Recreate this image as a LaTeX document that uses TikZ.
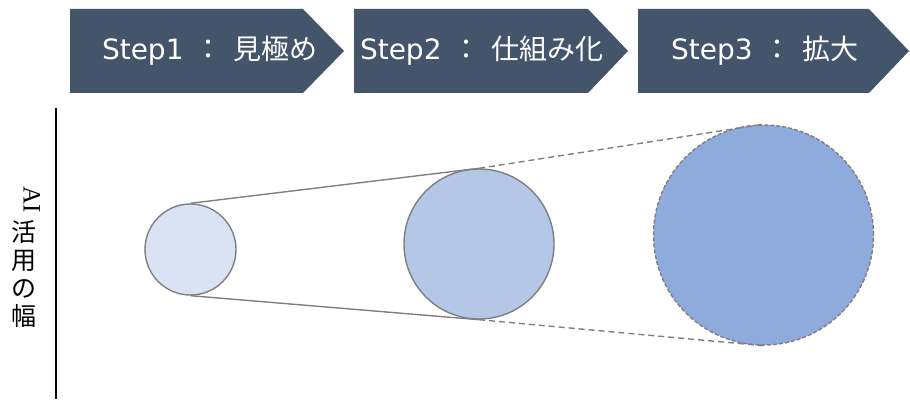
\documentclass[tikz,border=0pt]{standalone}
\usepackage{fontspec}
\setmainfont{DejaVu Sans}
\newfontfamily\cjk{Noto Sans CJK JP}
\newfontfamily\serifl{Liberation Serif}
\definecolor{chev}{HTML}{44546A}
\definecolor{lgray}{HTML}{7F7F7F}
\definecolor{cA}{HTML}{DAE3F3}
\definecolor{cB}{HTML}{B4C7E7}
\definecolor{cC}{HTML}{8FAADC}
\newcommand{\csep}{\hspace{0.4em}}
\tikzset{
  chevshape/.style={fill=chev, draw=none},
  steptext/.style={text=white, font=\fontsize{28}{32}\selectfont, inner sep=0pt},
  vtext/.style={font=\cjk\fontsize{25}{28}\selectfont, inner sep=0pt},
  bubble/.style={circle, draw=lgray, line width=1.4pt, inner sep=0pt},
  conn/.style={draw=lgray, line width=1.4pt},
  dconn/.style={draw=lgray, line width=1.4pt, dash pattern=on 6pt off 4pt},
}
\begin{document}
\begin{tikzpicture}[x=1pt,y=-1pt]
\useasboundingbox (0,0) rectangle (910,401);
% chevrons
\path[chevshape] (70,9) -- (303,9) -- (344,51) -- (303,93) -- (70,93) -- cycle;
\path[chevshape] (354,9) -- (588,9) -- (628,51) -- (588,93) -- (354,93) -- cycle;
\path[chevshape] (638,9) -- (869,9) -- (909,51) -- (869,93) -- (638,93) -- cycle;
\node[steptext] (s1) at (210,51) {Step1\csep{\cjk ：}\csep{\cjk 見極め}};
\node[steptext] (s2) at (482,51) {Step2\csep{\cjk ：}\csep{\cjk 仕組み化}};
\node[steptext] (s3) at (765,51) {Step3\csep{\cjk ：}\csep{\cjk 拡大}};
% axis
\coordinate (atop) at (56,108);
\coordinate (abot) at (56,399);
\draw[line width=1.5pt, black] (atop) -- (abot);
\node[rotate=-90, font=\serifl\fontsize{25}{28}\selectfont, inner sep=0pt] (vai) at (32,200) {AI};
\node[vtext] (v1) at (24,232) {活};
\node[vtext] (v2) at (24,261) {用};
\node[vtext] (v3) at (24,289) {の};
\node[vtext] (v4) at (24,316) {幅};
% circles
\node[bubble, fill=cA, minimum size=91pt] (c1) at (190.5,249.5) {};
\node[bubble, fill=cB, minimum size=150pt] (c2) at (479,244) {};
\node[bubble, fill=cC, minimum size=220pt, dash pattern=on 4pt off 2pt] (c3) at (763.5,235) {};
% connectors
\draw[conn] (c1.north) -- (c2.north);
\draw[conn] (c1.south) -- (c2.south);
\draw[dconn] (c2.north) -- (c3.north);
\draw[dconn] (c2.south) -- (c3.south);
\end{tikzpicture}
\end{document}
